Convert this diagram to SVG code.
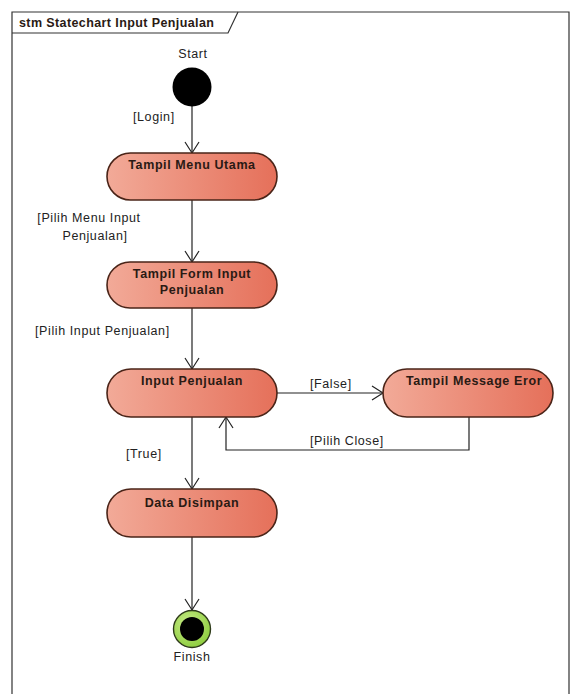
<svg xmlns="http://www.w3.org/2000/svg" width="571" height="694" viewBox="0 0 571 694">
  <style>
    .lbl { font-family: "Liberation Sans", Arial, sans-serif; font-size: 12.5px; letter-spacing: 0.6px; fill: #222; }
    .st { font-family: "Liberation Sans", Arial, sans-serif; font-size: 12.5px; font-weight: bold; letter-spacing: 0.6px; fill: #2a1a14; }
    .state { fill: url(#stateFill); stroke: #4a2418; stroke-width: 1.6; }
    .edge { fill: none; stroke: #222; stroke-width: 1.2; }
  </style>
  <defs>
    <linearGradient id="stateFill" x1="0" y1="0" x2="1" y2="0">
      <stop offset="0" stop-color="#f2aa98"/>
      <stop offset="1" stop-color="#e5705a"/>
    </linearGradient>
    <radialGradient id="finishRing" cx="0.4" cy="0.35" r="0.7">
      <stop offset="0" stop-color="#c8ec88"/>
      <stop offset="1" stop-color="#8ccc3c"/>
    </radialGradient>
    <marker id="open" markerWidth="14" markerHeight="16" refX="12" refY="8" orient="auto" markerUnits="userSpaceOnUse">
      <path d="M1,1 L12,8 L1,15" fill="none" stroke="#222" stroke-width="1.2"/>
    </marker>
  </defs>

  <rect width="571" height="694" fill="#ffffff"/>

  <!-- frame -->
  <g id="frame">
    <path d="M12,700 L12,12 L569,12 L569,700" fill="none" stroke="#333" stroke-width="1.2"/>
    <path d="M12,33 L228,33 L238,12" fill="none" stroke="#333" stroke-width="1.2"/>
    <text x="19" y="27" class="st" style="letter-spacing:0.4px">stm Statechart Input Penjualan</text>
  </g>

  <!-- connectors -->
  <g id="connectors">
    <line class="edge" x1="192" y1="106" x2="192" y2="153" marker-end="url(#open)"/>
    <line class="edge" x1="192" y1="200" x2="192" y2="262" marker-end="url(#open)"/>
    <line class="edge" x1="192" y1="308" x2="192" y2="369" marker-end="url(#open)"/>
    <line class="edge" x1="277" y1="393" x2="383" y2="393" marker-end="url(#open)"/>
    <polyline class="edge" points="469,417 469,450 226,450 226,417" marker-end="url(#open)"/>
    <line class="edge" x1="192" y1="417" x2="192" y2="489" marker-end="url(#open)"/>
    <line class="edge" x1="192" y1="537" x2="192" y2="610" marker-end="url(#open)"/>
    <text class="lbl" x="133" y="121">[Login]</text>
    <text class="lbl" x="89" y="222" text-anchor="middle">[Pilih Menu Input</text>
    <text class="lbl" x="95" y="240" text-anchor="middle">Penjualan]</text>
    <text class="lbl" x="35" y="335">[Pilih Input Penjualan]</text>
    <text class="lbl" x="310" y="388">[False]</text>
    <text class="lbl" x="310" y="445">[Pilih Close]</text>
    <text class="lbl" x="126" y="458">[True]</text>
  </g>

  <g id="start">
    <circle cx="192" cy="87" r="19.5" fill="#000"/>
    <text class="lbl" x="193" y="58" text-anchor="middle">Start</text>
  </g>

  <g id="tampil-menu-utama">
    <rect class="state" x="107" y="153" width="170" height="47" rx="23.5"/>
    <text class="st" x="192" y="169" text-anchor="middle">Tampil Menu Utama</text>
  </g>

  <g id="tampil-form-input">
    <rect class="state" x="107" y="262" width="170" height="46" rx="23"/>
    <text class="st" x="192" y="278" text-anchor="middle">Tampil Form Input</text>
    <text class="st" x="192" y="294" text-anchor="middle">Penjualan</text>
  </g>

  <g id="input-penjualan">
    <rect class="state" x="107" y="369" width="170" height="48" rx="24"/>
    <text class="st" x="192" y="385" text-anchor="middle">Input Penjualan</text>
  </g>

  <g id="tampil-message-eror">
    <rect class="state" x="383" y="369" width="170" height="48" rx="24"/>
    <text class="st" x="474" y="385" text-anchor="middle">Tampil Message Eror</text>
  </g>

  <g id="data-disimpan">
    <rect class="state" x="107" y="489" width="170" height="48" rx="24"/>
    <text class="st" x="192" y="507" text-anchor="middle">Data Disimpan</text>
  </g>

  <g id="finish">
    <circle cx="192" cy="629" r="18.5" fill="url(#finishRing)" stroke="#2e3a1a" stroke-width="1.4"/>
    <circle cx="192" cy="629" r="12" fill="#000"/>
    <text class="lbl" x="192" y="661" text-anchor="middle">Finish</text>
  </g>
</svg>
